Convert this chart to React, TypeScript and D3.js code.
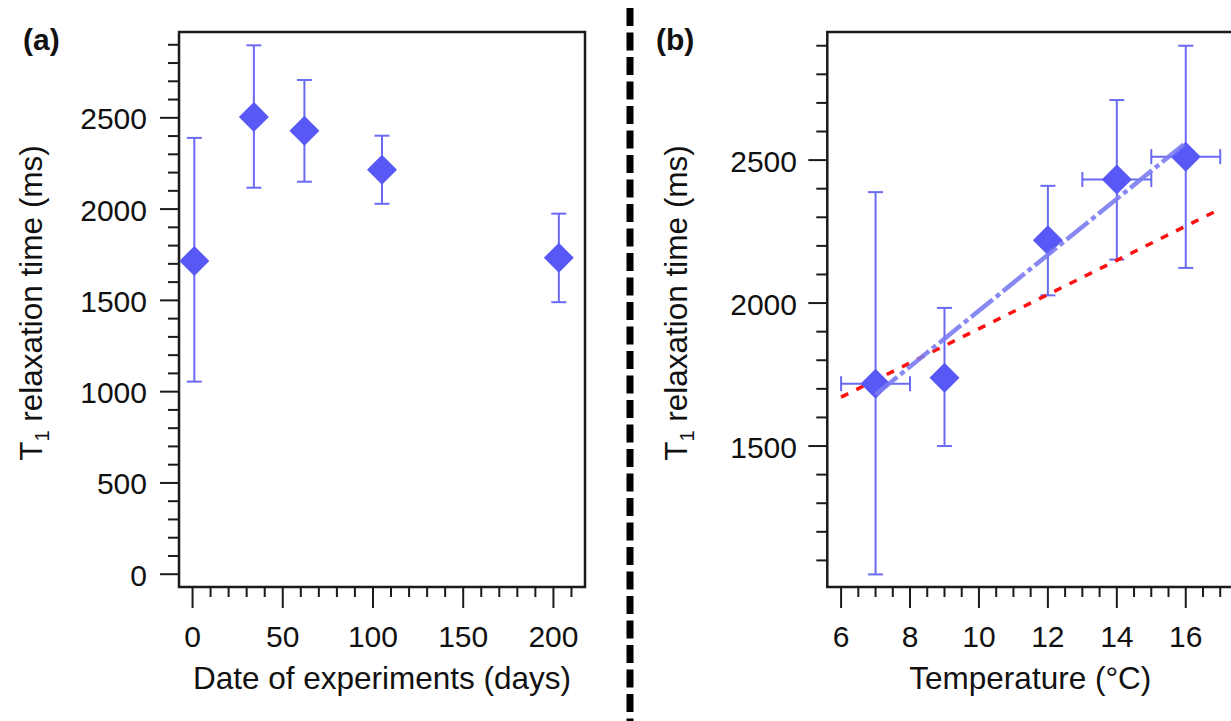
import React from "react";
import * as d3 from "d3";

// ---- Data ----
// Panel (a): T1 vs date of experiments
const days = [1, 34, 62, 105, 203];
const t1Days = [1716, 2505, 2429, 2216, 1733];
const t1DaysLow = [1055, 2117, 2150, 2029, 1490];
const t1DaysHigh = [2390, 2897, 2707, 2402, 1975];

// Panel (b): T1 vs temperature
const temps = [7, 9, 12, 14, 16];
const t1Temp = [1718, 1739, 2220, 2432, 2512];
const t1TempLow = [1051, 1500, 2027, 2152, 2123];
const t1TempHigh = [2388, 1983, 2410, 2710, 2900];
const tempErr = [1, 0, 0, 1, 1];

// Fit lines in panel (b)
const fitBlueT = [7, 16];
const fitBlueV = [1680, 2560];
const fitRedT = [6, 17];
const fitRedV = [1671, 2329];

// Ticks
const aYMajor = [0, 500, 1000, 1500, 2000, 2500];
const aYMinor = d3.range(0, 2901, 100);
const aXMajor = [0, 50, 100, 150, 200];
const aXMinor = d3.range(0, 211, 10);
const bYMajor = [1500, 2000, 2500];
const bYMinor = d3.range(1100, 2901, 100);
const bXMajor = [6, 8, 10, 12, 14, 16];
const bXMinor = d3.range(6, 17.01, 0.5);

const FONT = "Arial, 'Liberation Sans', sans-serif";
const MARK = "#5858F6";
const ERR = "#6A6AF2";

function Diamond({ cx, cy, r }: { cx: number; cy: number; r: number }) {
  return (
    <path
      d={`M${cx},${cy - r}L${cx + r},${cy}L${cx},${cy + r}L${cx - r},${cy}Z`}
      fill={MARK}
    />
  );
}

function Panel(props: {
  x: d3.ScaleLinear<number, number>;
  y: d3.ScaleLinear<number, number>;
  xMajor: number[];
  xMinor: number[];
  yMajor: number[];
  yMinor: number[];
  xTitle: string;
  label: string;
  labelX: number;
  yTitleX: number;
  yLabelX: number;
  children?: React.ReactNode;
}) {
  const { x, y } = props;
  const [x0, x1] = x.range();
  const [y0, y1] = y.range(); // y0 bottom, y1 top
  const xc = (x0 + Math.min(x1, x0 + 406)) / 2;
  return (
    <g>
      {/* frame */}
      <rect
        x={x0}
        y={y1}
        width={x1 - x0}
        height={y0 - y1}
        fill="none"
        stroke="#1a1a1a"
        strokeWidth={2.5}
      />
      {/* y ticks */}
      {props.yMinor.map((v) => {
        const major = props.yMajor.includes(v);
        return (
          <line
            key={"ym" + v}
            x1={x0 - (major ? 19 : 11)}
            x2={x0}
            y1={y(v)}
            y2={y(v)}
            stroke="#1a1a1a"
            strokeWidth={2}
          />
        );
      })}
      {props.yMajor.map((v) => (
        <text
          key={"yl" + v}
          x={props.yLabelX}
          y={y(v) + 11.5}
          textAnchor="end"
          fontSize={30}
          fontFamily={FONT}
          fill="#111"
        >
          {v}
        </text>
      ))}
      {/* x ticks */}
      {props.xMinor.map((v) => {
        const major = props.xMajor.includes(v);
        return (
          <line
            key={"xm" + v}
            x1={x(v)}
            x2={x(v)}
            y1={y0}
            y2={y0 + (major ? 21 : 10)}
            stroke="#1a1a1a"
            strokeWidth={2}
          />
        );
      })}
      {props.xMajor.map((v) => (
        <text
          key={"xl" + v}
          x={x(v)}
          y={646.5}
          textAnchor="middle"
          fontSize={30}
          fontFamily={FONT}
          fill="#111"
        >
          {v}
        </text>
      ))}
      <text
        x={xc}
        y={689}
        textAnchor="middle"
        fontSize={31.5}
        fontFamily={FONT}
        fill="#111"
      >
        {props.xTitle}
      </text>
      <text
        transform={`translate(${props.yTitleX},${303}) rotate(-90)`}
        textAnchor="middle"
        fontSize={31.5}
        fontFamily={FONT}
        fill="#111"
      >
        T
        <tspan fontSize={20} dy={7}>
          1
        </tspan>
        <tspan dy={-7}> relaxation time (ms)</tspan>
      </text>
      <text
        x={props.labelX}
        y={50}
        fontSize={30}
        fontWeight="bold"
        fontFamily={FONT}
        fill="#111"
      >
        {props.label}
      </text>
      {props.children}
    </g>
  );
}

export default function App() {
  const xa = d3.scaleLinear().domain([-7.5, 217.5]).range([179, 585]);
  const ya = d3.scaleLinear().domain([-70, 2970]).range([587, 32]);
  const xb = d3.scaleLinear().domain([5.6, 17.6]).range([827.3, 1240.9]);
  const yb = d3.scaleLinear().domain([1007, 2948]).range([587, 32]);

  const line = d3
    .line<[number, number]>()
    .x((d) => xb(d[0]))
    .y((d) => yb(d[1]));

  const cap = 7.5;

  return (
    <svg
      width={1231}
      height={721}
      style={{ position: "absolute", left: 0, top: 0, background: "#fff" }}
    >
      <rect x={0} y={0} width={1231} height={721} fill="#fff" />
      {/* divider */}
      <line
        x1={630}
        x2={630}
        y1={8}
        y2={721}
        stroke="#000"
        strokeWidth={7}
        strokeDasharray="18,6.5"
      />
      <Panel
        x={xa}
        y={ya}
        xMajor={aXMajor}
        xMinor={aXMinor}
        yMajor={aYMajor}
        yMinor={aYMinor}
        xTitle="Date of experiments (days)"
        label="(a)"
        labelX={23}
        yTitleX={42}
        yLabelX={147}
      >
        {days.map((d, i) => (
          <g key={"a" + i}>
            <line
              x1={xa(d)}
              x2={xa(d)}
              y1={ya(t1DaysLow[i])}
              y2={ya(t1DaysHigh[i])}
              stroke={ERR}
              strokeWidth={2}
            />
            <line
              x1={xa(d) - cap}
              x2={xa(d) + cap}
              y1={ya(t1DaysLow[i])}
              y2={ya(t1DaysLow[i])}
              stroke={ERR}
              strokeWidth={2}
            />
            <line
              x1={xa(d) - cap}
              x2={xa(d) + cap}
              y1={ya(t1DaysHigh[i])}
              y2={ya(t1DaysHigh[i])}
              stroke={ERR}
              strokeWidth={2}
            />
            <Diamond cx={xa(d)} cy={ya(t1Days[i])} r={15} />
          </g>
        ))}
      </Panel>
      <Panel
        x={xb}
        y={yb}
        xMajor={bXMajor}
        xMinor={bXMinor}
        yMajor={bYMajor}
        yMinor={bYMinor}
        xTitle="Temperature (°C)"
        label="(b)"
        labelX={656}
        yTitleX={687}
        yLabelX={797}
      >
        {temps.map((t, i) => (
          <g key={"b" + i}>
            <line
              x1={xb(t)}
              x2={xb(t)}
              y1={yb(t1TempLow[i])}
              y2={yb(t1TempHigh[i])}
              stroke={ERR}
              strokeWidth={2}
            />
            <line
              x1={xb(t) - cap}
              x2={xb(t) + cap}
              y1={yb(t1TempLow[i])}
              y2={yb(t1TempLow[i])}
              stroke={ERR}
              strokeWidth={2}
            />
            <line
              x1={xb(t) - cap}
              x2={xb(t) + cap}
              y1={yb(t1TempHigh[i])}
              y2={yb(t1TempHigh[i])}
              stroke={ERR}
              strokeWidth={2}
            />
            {tempErr[i] > 0 && (
              <g>
                <line
                  x1={xb(t - tempErr[i])}
                  x2={xb(t + tempErr[i])}
                  y1={yb(t1Temp[i])}
                  y2={yb(t1Temp[i])}
                  stroke={ERR}
                  strokeWidth={2}
                />
                <line
                  x1={xb(t - tempErr[i])}
                  x2={xb(t - tempErr[i])}
                  y1={yb(t1Temp[i]) - cap}
                  y2={yb(t1Temp[i]) + cap}
                  stroke={ERR}
                  strokeWidth={2}
                />
                <line
                  x1={xb(t + tempErr[i])}
                  x2={xb(t + tempErr[i])}
                  y1={yb(t1Temp[i]) - cap}
                  y2={yb(t1Temp[i]) + cap}
                  stroke={ERR}
                  strokeWidth={2}
                />
              </g>
            )}
          </g>
        ))}
        <path
          d={line(fitRedT.map((t, i) => [t, fitRedV[i]] as [number, number])) || ""}
          fill="none"
          stroke="#ff1010"
          strokeWidth={3.5}
          strokeDasharray="8,9"
        />
        {temps.map((t, i) => (
          <Diamond key={"bd" + i} cx={xb(t)} cy={yb(t1Temp[i])} r={15} />
        ))}
        <path
          d={line(fitBlueT.map((t, i) => [t, fitBlueV[i]] as [number, number])) || ""}
          fill="none"
          stroke="#7b7bf2"
          strokeOpacity={0.9}
          strokeWidth={4.5}
          strokeDasharray="28,4,5,4"
        />
      </Panel>
    </svg>
  );
}
